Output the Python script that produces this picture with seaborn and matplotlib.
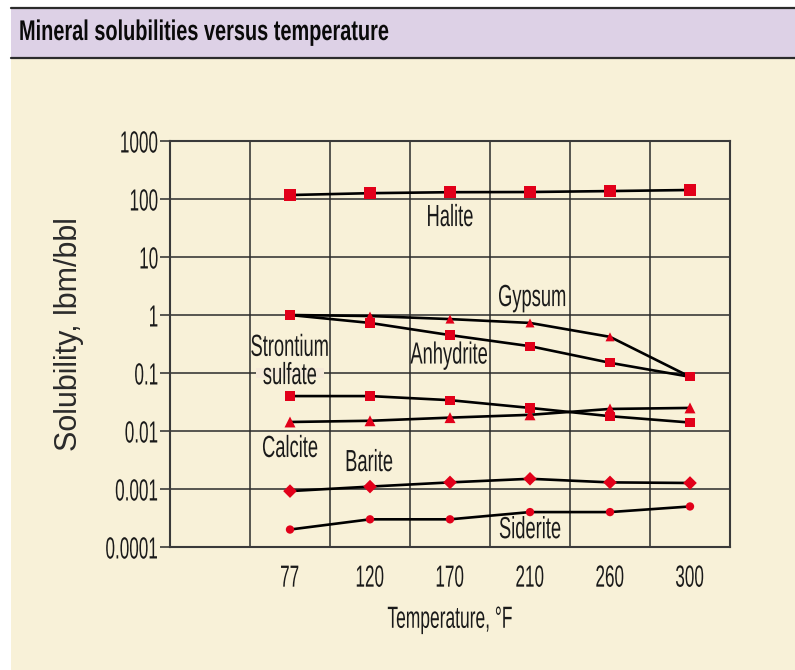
import numpy as np
import pandas as pd
import matplotlib
matplotlib.use("Agg")
import matplotlib.pyplot as plt
import seaborn as sns
from matplotlib.patches import Rectangle
from matplotlib.lines import Line2D
from matplotlib.patheffects import AbstractPathEffect
from matplotlib.transforms import Affine2D
from matplotlib.colors import to_rgb

# ---------------- data ----------------
temperatures = [77, 120, 170, 210, 260, 300]
halite = [117, 126, 131, 132, 137, 143]
gypsum = [1.0, 0.96, 0.85, 0.73, 0.42, 0.086]
anhydrite = [1.0, 0.73, 0.45, 0.29, 0.15, 0.086]
strontium_sulfate = [0.040, 0.040, 0.034, 0.025, 0.018, 0.014]
calcite = [0.0143, 0.015, 0.017, 0.019, 0.024, 0.025]
barite = [0.00092, 0.0011, 0.0013, 0.0015, 0.0013, 0.00127]
siderite = [0.0002, 0.0003, 0.0003, 0.0004, 0.0004, 0.0005]
ytick_values = [0.0001, 0.001, 0.01, 0.1, 1, 10, 100, 1000]
ytick_labels = ["0.0001", "0.001", "0.01", "0.1", "1", "10", "100", "1000"]

series = {
    "Halite": halite,
    "Gypsum": gypsum,
    "Anhydrite": anhydrite,
    "Strontium sulfate": strontium_sulfate,
    "Calcite": calcite,
    "Barite": barite,
    "Siderite": siderite,
}
# gypsum end points coincide with anhydrite squares
hidden_markers = {"Gypsum": [77, 300]}

rows = []
for name, vals in series.items():
    for i, (t, v) in enumerate(zip(temperatures, vals)):
        rows.append({"mineral": name, "temp": t, "pos": i, "value": v,
                     "marked": t not in hidden_markers.get(name, [])})
df = pd.DataFrame(rows)

# ---------------- style ----------------
RED = "#E2001A"
CREAM = "#F8F1D8"
LAV = "#DDD1E6"
DARK = "#2b2b2b"
FONT = ["Liberation Sans", "DejaVu Sans"]

sns.set_theme(style="white")
plt.rcParams["font.family"] = FONT


class Condense(AbstractPathEffect):
    """Horizontally squeeze text glyphs (condensed typeface look)."""
    def __init__(self, sx=0.58, anchor="center"):
        super().__init__()
        self.sx = sx
        self.anchor = anchor

    def draw_path(self, renderer, gc, tpath, affine, rgbFace=None):
        v = tpath.vertices
        if len(v):
            x0, x1 = v[:, 0].min(), v[:, 0].max()
            c = {"left": x0, "right": x1}.get(self.anchor, 0.5 * (x0 + x1))
        else:
            c = 0.0
        t = Affine2D().translate(-c, 0).scale(self.sx, 1).translate(c, 0) + affine
        renderer.draw_path(gc, tpath, t, rgbFace)


W, H = 795, 670
fig = plt.figure(figsize=(W / 100, H / 100), dpi=100)
fig.patch.set_facecolor("white")

def fx(px):
    return px / W

def fy(py):
    return 1 - py / H

# cream page
fig.patches.append(Rectangle((fx(11), 0), 1 - fx(11), fy(58), transform=fig.transFigure,
                             facecolor=CREAM, edgecolor="none", zorder=0))
# title bar
fig.patches.append(Rectangle((fx(11), fy(57)), 1 - fx(11), fy(8) - fy(57), transform=fig.transFigure,
                             facecolor=LAV, edgecolor="none", zorder=0))
for yy in (8, 57.5):
    fig.lines.append(Line2D([fx(11), 1], [fy(yy), fy(yy)], transform=fig.transFigure,
                            color=DARK, lw=1.6, zorder=1))
fig.text(fx(19), fy(33), "Mineral solubilities versus temperature", ha="left", va="center",
         fontsize=20.5, fontweight="bold", color="#0a0a0a",
         path_effects=[Condense(0.70, "left")])

# axes position
L, R, T, B = 170, 730, 141, 547
pos = [fx(L), fy(B), fx(R) - fx(L), fy(T) - fy(B)]

# gradient background
bg = fig.add_axes(pos, zorder=0)
bg.set_axis_off()
c0 = np.array(to_rgb("#FAF0D7"))
c1 = np.array(to_rgb("#E1D6E7"))
u = np.linspace(0, 1, 200)[None, :]
v = np.linspace(0, 1, 120)[:, None]
t = np.clip(0.85 * u + 0.25 * v - 0.05, 0, 1)
img = c0[None, None, :] * (1 - t[..., None]) + c1[None, None, :] * t[..., None]
bg.imshow(img, aspect="auto", extent=[0, 1, 0, 1], origin="upper")
bg.set_xlim(0, 1)
bg.set_ylim(0, 1)

ax = fig.add_axes(pos, zorder=1)
ax.set_facecolor("none")

# lines
sns.lineplot(data=df, x="pos", y="value", units="mineral", estimator=None,
             color="black", lw=1.9, ax=ax, legend=False, zorder=3)
# markers
markers = {"Halite": "s", "Gypsum": "^", "Anhydrite": "s", "Strontium sulfate": "s",
           "Calcite": "^", "Barite": "D", "Siderite": "o"}
sizes = {"Halite": 80, "Gypsum": 42, "Anhydrite": 45, "Strontium sulfate": 45,
         "Calcite": 62, "Barite": 48, "Siderite": 36}
sns.scatterplot(data=df[df["marked"]], x="pos", y="value", style="mineral", markers=markers,
                size="mineral", sizes=sizes, color=RED, edgecolor="none", linewidth=0,
                ax=ax, legend=False, zorder=4)

ax.set_yscale("log")
ax.set_ylim(1e-4, 1e3)
ax.set_xlim(-1.5, 5.5)
ax.set_yticks(ytick_values)
ax.set_yticklabels(ytick_labels)
ax.yaxis.set_minor_locator(matplotlib.ticker.NullLocator())
ax.set_xticks(range(len(temperatures)))
ax.set_xticklabels([str(t) for t in temperatures])
ax.set_xticks(np.arange(-0.5, 5.0, 1.0), minor=True)

ax.grid(True, axis="y", which="major", color=DARK, lw=1.1)
ax.grid(True, axis="x", which="minor", color=DARK, lw=1.1)
ax.grid(False, axis="x", which="major")
ax.tick_params(axis="y", which="major", direction="out", length=7, width=1.1, color=DARK,
               pad=1, labelsize=22, labelcolor="#1a1a1a", left=True)
ax.tick_params(axis="x", which="both", length=0, pad=12, labelsize=22, labelcolor="#1a1a1a")
for sp in ax.spines.values():
    sp.set_color("#3a3a3a")
    sp.set_linewidth(1.5)
    sp.set_visible(True)

for lab in ax.get_yticklabels():
    lab.set_path_effects([Condense(0.56, "right")])
for lab in ax.get_xticklabels():
    lab.set_path_effects([Condense(0.56, "center")])

ax.set_xlabel("Temperature, °F", fontsize=22, color="#1a1a1a", labelpad=8,
              path_effects=[Condense(0.57, "center")])
ax.set_ylabel("Solubility, lbm/bbl", fontsize=22, color="#2a2a2a")
ax.yaxis.set_label_coords((84 - L) / (R - L), 0.525)

# series labels
lab_kw = dict(ha="center", va="center", fontsize=22, color="#1a1a1a", zorder=5)
ax.text(2.0, 47, "Halite", path_effects=[Condense(0.6)], **lab_kw)
ax.text(3.03, 1.96, "Gypsum", path_effects=[Condense(0.6)], **lab_kw)
ax.text(1.99, 0.20, "Anhydrite", path_effects=[Condense(0.6)], **lab_kw)
# patch hiding the gridline behind "sulfate"
ax.add_patch(Rectangle((-0.42, 0.082), 0.84, 0.123 - 0.082, facecolor="#F5EAD9",
                       edgecolor="none", zorder=2.5))
ax.text(0.0, 0.155, "Strontium\nsulfate", linespacing=0.92,
        path_effects=[Condense(0.6)], **lab_kw)
ax.text(0.0, 0.0049, "Calcite", path_effects=[Condense(0.6)], **lab_kw)
ax.text(0.99, 0.0028, "Barite", path_effects=[Condense(0.6)], **lab_kw)
ax.text(3.0, 0.000195, "Siderite", path_effects=[Condense(0.6)], **lab_kw)

fig.savefig("out.png", dpi=100, facecolor=fig.get_facecolor())
